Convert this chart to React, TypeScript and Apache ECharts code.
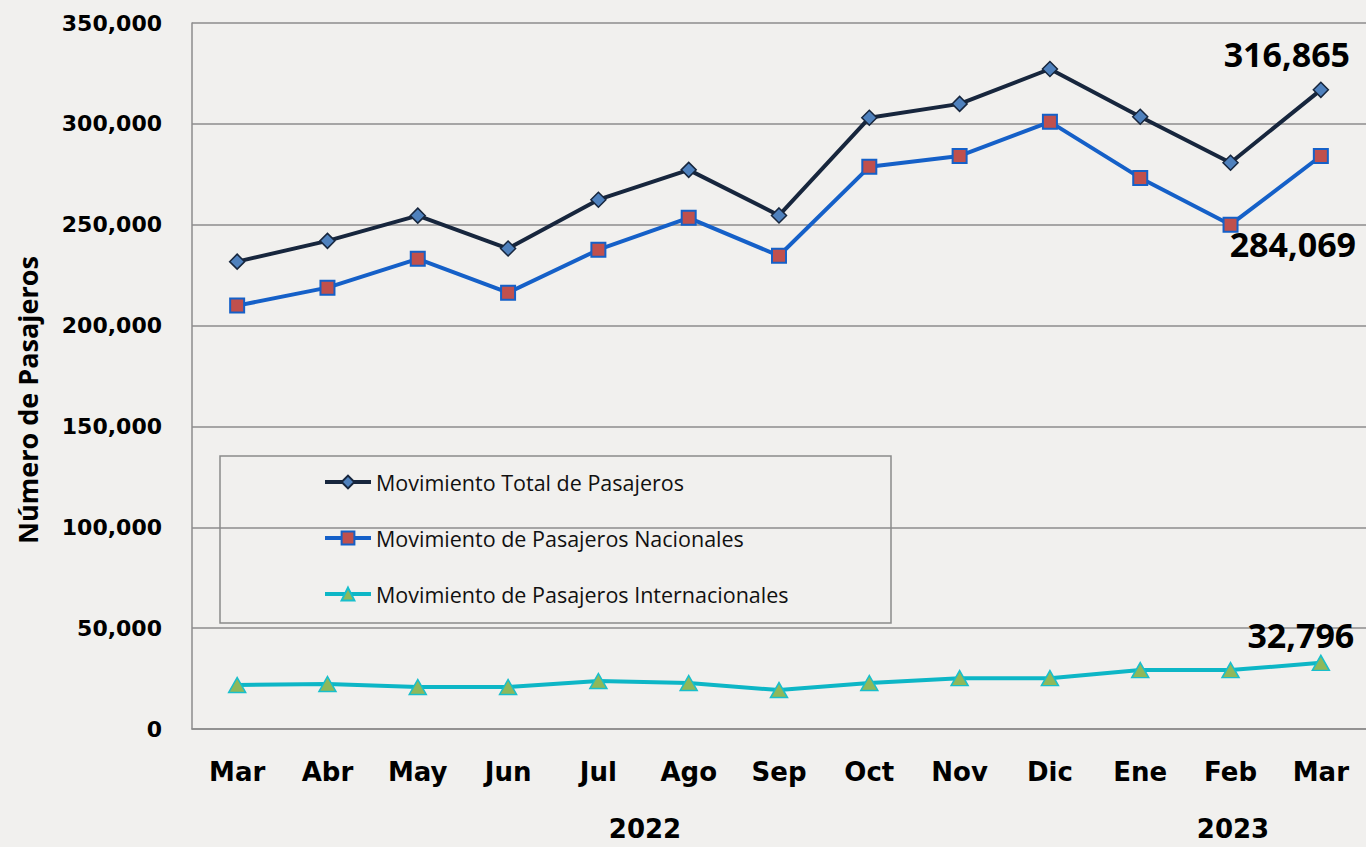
import React, { useEffect, useRef } from "react";
import * as echarts from "echarts";

const months = ["Mar", "Abr", "May", "Jun", "Jul", "Ago", "Sep", "Oct", "Nov", "Dic", "Ene", "Feb", "Mar"];
const years = ["2022", "2023"];
const seriesNames = [
  "Movimiento Total de Pasajeros",
  "Movimiento de Pasajeros Nacionales",
  "Movimiento de Pasajeros Internacionales",
];
const totalValues = [231700, 242000, 254500, 238200, 262400, 277200, 254600, 303000, 309900, 327200, 303500, 280700, 316865];
const nacionalValues = [209900, 218800, 233100, 216300, 237600, 253400, 234600, 278700, 284100, 301000, 273200, 250000, 284069];
const internacionalValues = [21800, 22300, 20800, 20800, 23800, 22800, 19300, 22800, 25200, 25200, 29200, 29200, 32796];
const yTicks = { min: 0, max: 350000, interval: 50000 };

const fmt = (v: number) => v.toLocaleString("en-US");

function withLastLabel(values: number[], offset: number[], position: string) {
  return values.map((v, i) =>
    i === values.length - 1
      ? {
          value: v,
          label: {
            show: true,
            position,
            offset,
            formatter: fmt(v),
            fontFamily: "Open Sans",
            fontWeight: "bold",
            fontSize: 34,
            color: "#000",
          },
        }
      : v
  );
}

export default function App() {
  const ref = useRef<HTMLDivElement>(null);
  useEffect(() => {
    if (!ref.current) return;
    const chart = echarts.init(ref.current, null, { renderer: "svg" });
    const gridColor = "#8c8c8c";
    const yearStyle = {
      fontFamily: "DejaVu Sans",
      fontWeight: "bold",
      fontSize: 26,
      fill: "#000",
      textAlign: "center",
      textVerticalAlign: "middle",
    };
    chart.setOption({
      animation: false,
      backgroundColor: "#f1f0ee",
      grid: { left: 192, top: 23, width: 1178, height: 706, containLabel: false },
      xAxis: {
        type: "category",
        data: months,
        boundaryGap: true,
        axisLine: { show: true, lineStyle: { color: gridColor, width: 1.5 } },
        axisTick: { show: false },
        axisLabel: {
          margin: 30,
          fontFamily: "DejaVu Sans",
          fontWeight: "bold",
          fontSize: 26,
          color: "#000",
        },
        splitLine: { show: false },
      },
      yAxis: {
        type: "value",
        min: yTicks.min,
        max: yTicks.max,
        interval: yTicks.interval,
        axisLine: { show: true, lineStyle: { color: gridColor, width: 1.5 } },
        axisTick: { show: false },
        axisLabel: {
          margin: 30,
          formatter: (v: number) => fmt(v),
          fontFamily: "DejaVu Sans",
          fontWeight: "bold",
          fontSize: 22,
          color: "#000",
        },
        splitLine: { show: true, lineStyle: { color: gridColor, width: 1.5 } },
      },
      legend: {
        orient: "vertical",
        left: 318,
        top: 465,
        itemWidth: 46,
        itemHeight: 16,
        itemGap: 32,
        data: seriesNames,
        lineStyle: { width: 4 },
        textStyle: { fontFamily: "Open Sans", fontSize: 21.5, color: "#111", lineHeight: 24 },
      },
      graphic: [
        {
          type: "rect",
          shape: { x: 220, y: 456, width: 671, height: 167 },
          style: { fill: "none", stroke: "#8a8a8a", lineWidth: 1.5 },
          z: 10,
        },
        {
          type: "text",
          x: 27,
          y: 400,
          rotation: Math.PI / 2,
          style: {
            text: "Número de Pasajeros",
            fontFamily: "Open Sans",
            fontWeight: "bold",
            fontSize: 27,
            fill: "#000",
            textAlign: "center",
            textVerticalAlign: "middle",
          },
        },
        { type: "text", x: 645, y: 829, style: { ...yearStyle, text: years[0] } },
        { type: "text", x: 1233, y: 829, style: { ...yearStyle, text: years[1] } },
      ],
      series: [
        {
          name: seriesNames[0],
          type: "line",
          data: withLastLabel(totalValues, [-34, -6], "top"),
          symbol: "diamond",
          symbolSize: 15,
          lineStyle: { color: "#17263d", width: 4 },
          itemStyle: { color: "#4f81bd", borderColor: "#17263d", borderWidth: 1.5 },
          z: 3,
        },
        {
          name: seriesNames[1],
          type: "line",
          data: withLastLabel(nacionalValues, [-28, 58], "bottom"),
          symbol: "rect",
          symbolSize: 14,
          lineStyle: { color: "#1560c8", width: 4 },
          itemStyle: { color: "#c0504d", borderColor: "#1560c8", borderWidth: 2 },
          z: 3,
        },
        {
          name: seriesNames[2],
          type: "line",
          data: withLastLabel(internacionalValues, [-20, 2], "top"),
          symbol: "triangle",
          symbolSize: [17, 15],
          lineStyle: { color: "#0db6c6", width: 4 },
          itemStyle: { color: "#8fb85a", borderColor: "#18bfcc", borderWidth: 1.5 },
          z: 3,
        },
      ],
    });
    return () => chart.dispose();
  }, []);
  return (
    <div
      ref={ref}
      style={{ position: "fixed", left: 0, top: 0, width: 1366, height: 847, background: "#f1f0ee" }}
    />
  );
}
